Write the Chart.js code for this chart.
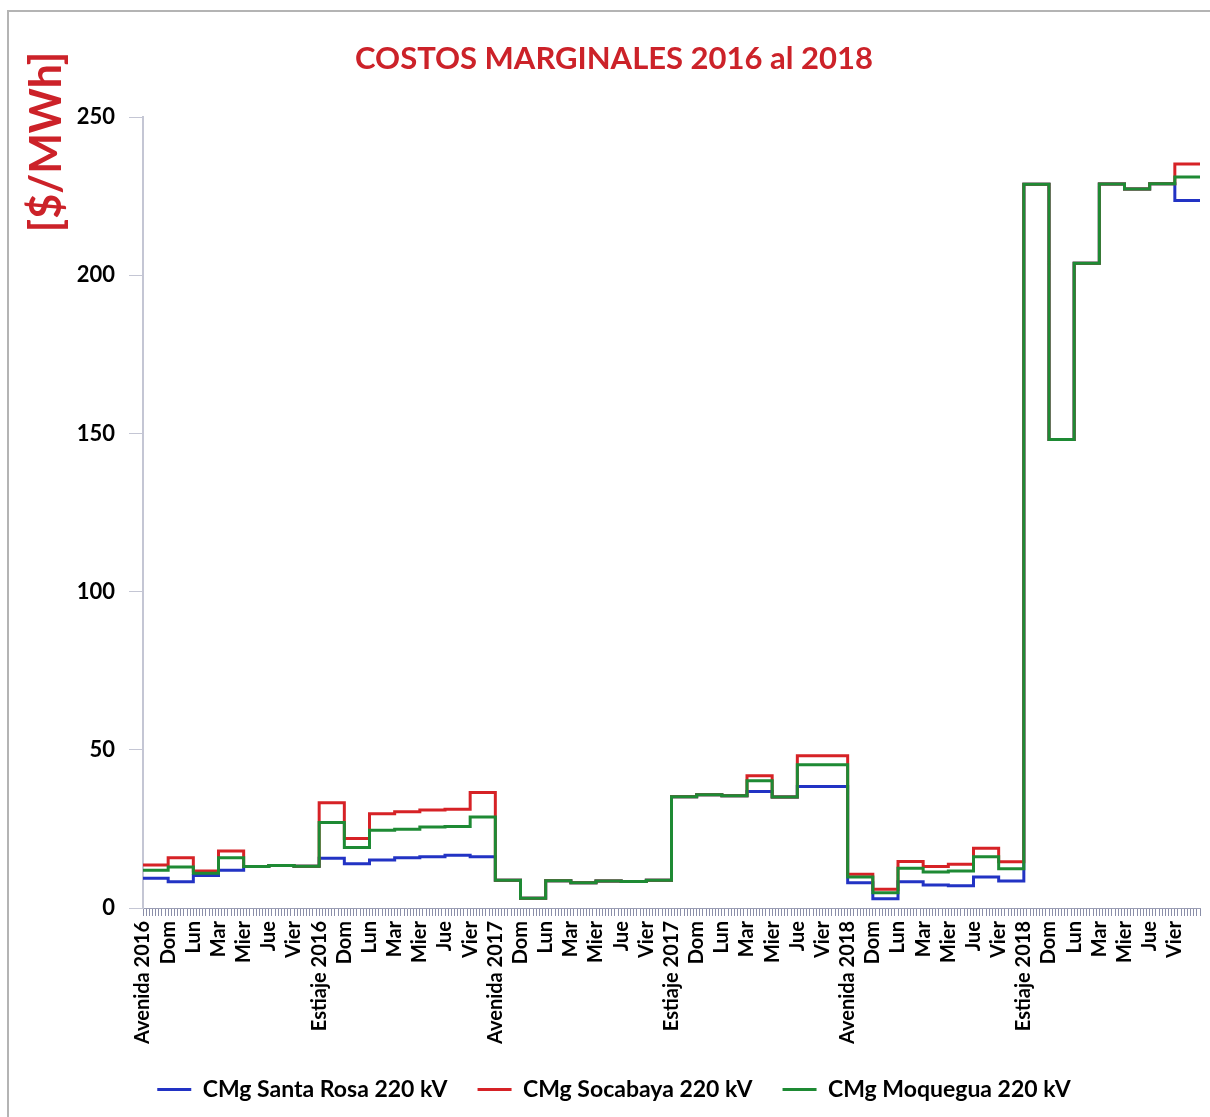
<!DOCTYPE html>
<html lang="es">

<head>
    <meta charset="UTF-8">
    <meta name="viewport" content="width=device-width, initial-scale=1.0">
    <script src="https://cdn.jsdelivr.net/npm/chart.js"></script>
    <title>Costos marginales 2016 al 2018</title>
    <style>
        html, body { margin: 0; background: #fff; overflow: hidden; }
        #wrap { position: relative; width: 1210px; height: 1117px; overflow: hidden; }
        #marco {
            position: absolute; left: 7px; top: 10px; width: 1220px; height: 1120px;
            border-left: 2px solid #b4b4b4; border-top: 2px solid #b4b4b4;
            pointer-events: none;
        }
    </style>
</head>

<body>
    <div id="wrap">
        <canvas id="myChart" width="1210" height="1117"></canvas>
        <div id="marco"></div>
    </div>
</body>
<script>
    // etiquetas de cada dia (inicio de cada periodo)
    var dias = [
        'Avenida 2016', 'Dom', 'Lun', 'Mar', 'Mier', 'Jue', 'Vier',
        'Estiaje 2016', 'Dom', 'Lun', 'Mar', 'Mier', 'Jue', 'Vier',
        'Avenida 2017', 'Dom', 'Lun', 'Mar', 'Mier', 'Jue', 'Vier',
        'Estiaje 2017', 'Dom', 'Lun', 'Mar', 'Mier', 'Jue', 'Vier',
        'Avenida 2018', 'Dom', 'Lun', 'Mar', 'Mier', 'Jue', 'Vier',
        'Estiaje 2018', 'Dom', 'Lun', 'Mar', 'Mier', 'Jue', 'Vier'
    ];

    // CMg en $/MWh por dia
    var santaRosa = [
        9.4, 8.3, 10.3, 11.9, 13.1, 13.4, 13.2,
        15.7, 14.0, 15.2, 15.9, 16.2, 16.7, 16.2,
        8.8, 3.1, 8.6, 8.0, 8.5, 8.4, 8.8,
        35.2, 35.8, 35.5, 36.8, 35.1, 38.4, 38.4,
        8.0, 2.9, 8.3, 7.3, 7.0, 9.8, 8.5,
        228.8, 148.1, 203.8, 228.9, 227.3, 229.0, 223.7
    ];
    var socabaya = [
        13.6, 15.9, 11.7, 18.0, 13.1, 13.4, 13.2,
        33.3, 22.0, 29.8, 30.4, 31.0, 31.2, 36.5,
        8.8, 3.1, 8.6, 8.0, 8.5, 8.4, 8.8,
        35.2, 35.8, 35.5, 41.8, 35.1, 48.1, 48.1,
        10.7, 5.9, 14.7, 13.1, 13.8, 18.9, 14.6,
        228.8, 148.1, 203.8, 228.9, 227.3, 229.0, 235.2
    ];
    var moquegua = [
        11.9, 13.0, 11.0, 15.9, 13.1, 13.4, 13.2,
        27.0, 19.1, 24.6, 24.9, 25.6, 25.8, 28.8,
        8.8, 3.1, 8.6, 8.0, 8.5, 8.4, 8.8,
        35.2, 35.8, 35.5, 40.2, 35.1, 45.3, 45.3,
        9.8, 4.8, 12.6, 11.4, 11.7, 16.2, 12.4,
        228.8, 148.1, 203.8, 228.9, 227.3, 229.0, 231.1
    ];

    var fuente = "Lato, 'Liberation Sans', sans-serif";

    // cada dia dura una unidad en x; el ultimo punto cierra el ultimo escalon
    function escalones(arr) {
        var pts = arr.map(function (v, i) { return { x: i, y: v }; });
        pts.push({ x: arr.length, y: arr[arr.length - 1] });
        return pts;
    }

    function serie(label, arr, color, orden) {
        return {
            label: label,
            data: escalones(arr),
            borderColor: color,
            backgroundColor: color,
            borderWidth: 3,
            stepped: true,
            pointRadius: 0,
            pointStyle: 'line',
            order: orden
        };
    }

    // titulo del eje y dibujado en vertical arriba a la izquierda
    var tituloEjeY = {
        id: 'tituloEjeY',
        afterDraw: function (chart) {
            var ctx = chart.ctx;
            ctx.save();
            ctx.translate(47, 142);
            ctx.rotate(-Math.PI / 2);
            ctx.font = "bold 43px " + fuente;
            ctx.fillStyle = '#cc2229';
            ctx.textAlign = 'center';
            ctx.textBaseline = 'middle';
            ctx.fillText('[$/MWh]', 0, 0);
            ctx.restore();
        }
    };

    var data = {
        datasets: [
            serie('CMg Santa Rosa 220 kV', santaRosa, '#2233c4', 3),
            serie('CMg Socabaya 220 kV', socabaya, '#d62226', 2),
            serie('CMg Moquegua 220 kV', moquegua, '#1e8a34', 1)
        ]
    };

    var config = {
        type: 'line',
        data: data,
        plugins: [tituloEjeY],
        options: {
            responsive: false,
            animation: false,
            layout: { padding: { left: 28, right: 10, top: 10, bottom: 6 } },
            plugins: {
                title: {
                    display: true,
                    text: 'COSTOS MARGINALES 2016 al 2018',
                    color: '#cc2229',
                    font: { family: fuente, size: 31, weight: 'bold' },
                    padding: { top: 30, bottom: 40 }
                },
                legend: {
                    position: 'bottom',
                    labels: {
                        usePointStyle: true,
                        pointStyleWidth: 34,
                        padding: 30,
                        color: '#000',
                        font: { family: fuente, size: 23, weight: 'bold' },
                        sort: function (a, b) { return a.datasetIndex - b.datasetIndex; }
                    }
                },
                tooltip: { enabled: false }
            },
            scales: {
                x: {
                    type: 'linear',
                    min: 0,
                    max: dias.length,
                    afterFit: function (scale) {
                        scale.height = 140;
                        scale.paddingLeft = 0;
                        scale.paddingRight = 0;
                    },
                    border: { display: true, color: '#9a9db4' },
                    grid: { drawOnChartArea: false, tickLength: 8, color: '#8a8ea8' },
                    ticks: {
                        stepSize: 0.125,
                        autoSkip: false,
                        maxRotation: 90,
                        minRotation: 90,
                        padding: 5,
                        color: '#000',
                        font: { family: fuente, size: 20, weight: 'bold' },
                        callback: function (value) {
                            if (Number.isInteger(value) && value < dias.length) return dias[value];
                            return '';
                        }
                    }
                },
                y: {
                    min: 0,
                    max: 250,
                    afterFit: function (scale) { scale.width = 115; },
                    border: { display: true, color: '#c4c6d4', width: 2 },
                    grid: { drawOnChartArea: false, tickLength: 14, color: '#c4c6d4' },
                    ticks: {
                        stepSize: 50,
                        padding: 14,
                        color: '#000',
                        font: { family: fuente, size: 22, weight: 'bold' }
                    }
                }
            }
        }
    };

    var myChart = new Chart(document.getElementById('myChart'), config);
</script>

</html>
